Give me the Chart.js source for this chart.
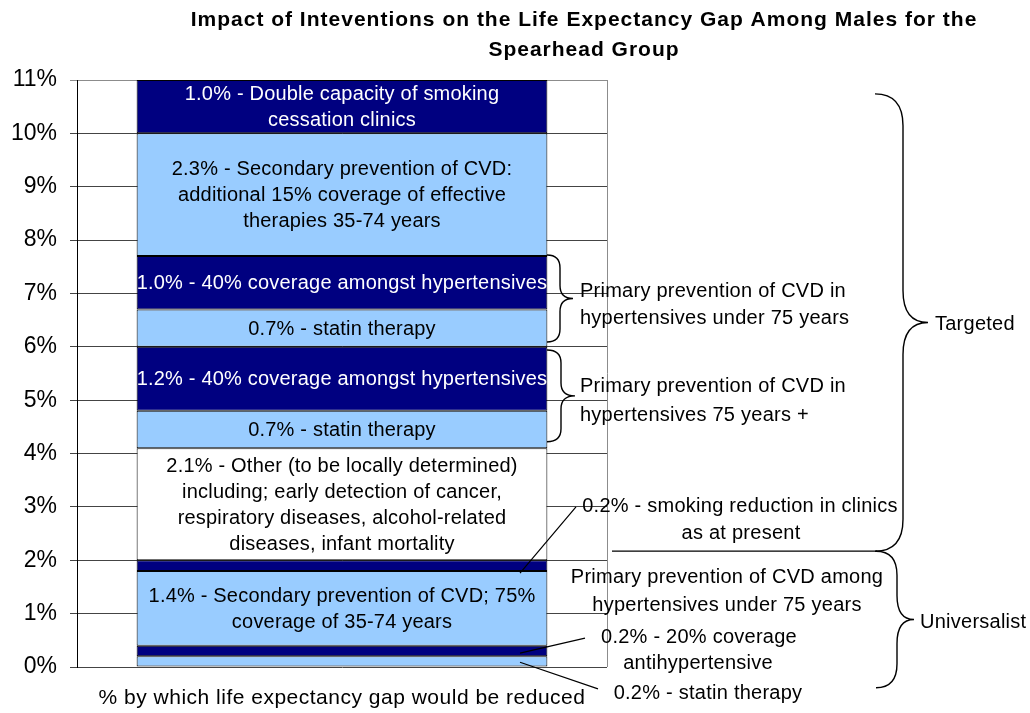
<!DOCTYPE html>
<html>
<head>
<meta charset="utf-8">
<script src="https://cdn.jsdelivr.net/npm/chart.js@4/dist/chart.umd.min.js"></script>
<style>
  html, body { margin: 0; padding: 0; background: #fff; }
  #wrap { width: 1030px; height: 713px; }
</style>
</head>
<body>
<div id="wrap"><canvas id="chart"></canvas></div>
<script>
// one stacked column, segments listed bottom to top
const categories = ['% by which life expectancy gap would be reduced'];
const segmentValues = [0.2, 0.2, 1.4, 0.2, 2.1, 0.7, 1.2, 0.7, 1.0, 2.3, 1.0];
const segmentNames = [
  'Statin therapy',
  '20% coverage antihypertensive',
  'Secondary prevention of CVD; 75% coverage',
  'Smoking reduction in clinics as at present',
  'Other (to be locally determined)',
  'Statin therapy (75 years +)',
  '40% coverage amongst hypertensives (75 years +)',
  'Statin therapy (under 75)',
  '40% coverage amongst hypertensives (under 75)',
  'Secondary prevention of CVD: additional 15% coverage',
  'Double capacity of smoking cessation clinics'
];
const segmentText = [
  [],
  [],
  ['1.4% - Secondary prevention of CVD; 75%', 'coverage of 35-74 years'],
  [],
  ['2.1% - Other (to be locally determined)', 'including; early detection of cancer,',
   'respiratory diseases, alcohol-related', 'diseases, infant mortality'],
  ['0.7% - statin therapy'],
  ['1.2% - 40% coverage amongst hypertensives'],
  ['0.7% - statin therapy'],
  ['1.0% - 40% coverage amongst hypertensives'],
  ['2.3% - Secondary prevention of CVD:', 'additional 15% coverage of effective', 'therapies 35-74 years'],
  ['1.0% - Double capacity of smoking', 'cessation clinics']
];
const yMin = 0, yMax = 11, yStep = 1;
const titleLines = ['Impact of Inteventions on the Life Expectancy Gap Among Males for the', 'Spearhead Group'];

const NAVY = '#000080', SKY = '#99CCFF', WHITE = '#FFFFFF';
const segmentFill = [SKY, NAVY, SKY, NAVY, WHITE, SKY, NAVY, SKY, NAVY, SKY, NAVY];
const FONT = "'Liberation Sans', Arial, sans-serif";

Chart.defaults.font.family = FONT;
Chart.defaults.color = '#000';

const segmentLabels = {
  id: 'segmentLabels',
  afterDatasetsDraw(chart) {
    const ctx = chart.ctx;
    ctx.save();
    ctx.font = '20px ' + FONT;
    ctx.letterSpacing = '0.2px';
    ctx.textAlign = 'center';
    ctx.textBaseline = 'middle';
    chart.data.datasets.forEach((ds, i) => {
      const lines = segmentText[i];
      if (!lines.length) return;
      const bar = chart.getDatasetMeta(i).data[0];
      const { x, y, base } = bar.getProps(['x', 'y', 'base'], true);
      const mid = (y + base) / 2;
      const lh = 26;
      ctx.fillStyle = segmentFill[i] === NAVY ? '#fff' : '#000';
      lines.forEach((t, k) => {
        ctx.fillText(t, x, mid + (k - (lines.length - 1) / 2) * lh + 1);
      });
    });
    ctx.restore();
  }
};

function brace(ctx, xe, yTop, yBot, xs, xTip, r) {
  const yTip = (yTop + yBot) / 2;
  ctx.beginPath();
  ctx.moveTo(xe, yTop);
  ctx.quadraticCurveTo(xs, yTop, xs, yTop + r);
  ctx.lineTo(xs, yTip - r);
  ctx.quadraticCurveTo(xs, yTip, xTip, yTip);
  ctx.quadraticCurveTo(xs, yTip, xs, yTip + r);
  ctx.lineTo(xs, yBot - r);
  ctx.quadraticCurveTo(xs, yBot, xe, yBot);
  ctx.stroke();
}

const sideNotes = {
  id: 'sideNotes',
  beforeDatasetsDraw(chart) {
    const { ctx, chartArea } = chart;
    ctx.save();
    ctx.strokeStyle = '#8c8c8c';
    ctx.lineWidth = 1;
    ctx.beginPath();
    ctx.moveTo(Math.round(chartArea.right) + 0.5, chartArea.top);
    ctx.lineTo(Math.round(chartArea.right) + 0.5, chartArea.bottom);
    ctx.stroke();
    ctx.restore();
  },
  afterDraw(chart) {
    const { ctx, chartArea } = chart;
    const Y = v => chart.scales.y.getPixelForValue(v);
    ctx.save();

    // title
    ctx.fillStyle = '#000';
    ctx.font = 'bold 21px ' + FONT;
    ctx.letterSpacing = '1px';
    ctx.textAlign = 'center';
    ctx.textBaseline = 'middle';
    ctx.fillText(titleLines[0], 584, 20);
    ctx.fillText(titleLines[1], 584, 50);

    // category label under the column
    ctx.font = '21px ' + FONT;
    ctx.letterSpacing = '0.5px';
    const xc = chart.scales.x.getPixelForValue(0);
    ctx.fillText(categories[0], xc, 698);

    // braces
    ctx.strokeStyle = '#000';
    ctx.lineWidth = 1.4;
    brace(ctx, 547, Y(7.72), Y(6.09), 560, 573, 13);
    brace(ctx, 547, Y(5.94), Y(4.22), 561, 575, 13);
    brace(ctx, 875, Y(10.74), Y(2.17), 903, 928, 32);
    brace(ctx, 876, Y(2.17), Y(-0.39), 897, 914, 24);

    // horizontal rule and leader lines
    ctx.lineWidth = 1.2;
    ctx.beginPath();
    ctx.moveTo(chartArea.right + 5, Y(2.17));
    ctx.lineTo(877, Y(2.17));
    ctx.moveTo(576, Y(3.0));
    ctx.lineTo(520, Y(1.76));
    ctx.moveTo(585, Y(0.54));
    ctx.lineTo(520, Y(0.26));
    ctx.moveTo(598, Y(-0.41));
    ctx.lineTo(520, Y(0.09));
    ctx.stroke();

    // notes
    ctx.font = '20px ' + FONT;
    ctx.letterSpacing = '0.25px';
    ctx.textAlign = 'left';
    ctx.fillText('Primary prevention of CVD in', 580, Y(7.03));
    ctx.fillText('hypertensives under 75 years', 580, Y(6.54));
    ctx.fillText('Primary prevention of CVD in', 580, Y(5.25));
    ctx.fillText('hypertensives 75 years +', 580, Y(4.72));
    ctx.fillText('Targeted', 935, Y(6.41));
    ctx.fillText('Universalist', 920, Y(0.84));

    ctx.textAlign = 'center';
    ctx.fillText('0.2% - smoking reduction in clinics', 740, Y(3.0));
    ctx.fillText('as at present', 741, Y(2.51));
    ctx.fillText('Primary prevention of CVD among', 727, Y(1.67));
    ctx.fillText('hypertensives under 75 years', 727, Y(1.16));
    ctx.fillText('0.2% - 20% coverage', 699, Y(0.56));
    ctx.fillText('antihypertensive', 698, Y(0.07));
    ctx.fillText('0.2% - statin therapy', 708, Y(-0.49));
    ctx.restore();
  }
};

new Chart(document.getElementById('chart'), {
  type: 'bar',
  data: {
    labels: categories,
    datasets: segmentValues.map((v, i) => ({
      label: segmentNames[i],
      data: [v],
      backgroundColor: segmentFill[i],
      borderColor: '#000',
      borderWidth: 1,
      borderSkipped: false,
      barPercentage: 0.775,
      categoryPercentage: 1
    }))
  },
  options: {
    responsive: true,
    maintainAspectRatio: false,
    animation: false,
    layout: { padding: { top: 80, bottom: 46, left: 0, right: 423 } },
    plugins: {
      legend: { display: false },
      tooltip: { enabled: false },
      title: { display: false }
    },
    scales: {
      x: {
        stacked: true,
        display: false
      },
      y: {
        stacked: true,
        min: yMin,
        max: yMax,
        border: { color: '#000', width: 1 },
        grid: {
          color: c => (c.tick && c.tick.value === yMax ? '#8c8c8c' : '#444'),
          lineWidth: 1,
          tickLength: 7
        },
        ticks: {
          stepSize: yStep,
          padding: 13,
          font: { size: 23 },
          color: '#000',
          callback: v => v + '%'
        },
        afterFit(scale) {
          scale.width = 77;
          scale.paddingTop = 0;
          scale.paddingBottom = 0;
        }
      }
    }
  },
  plugins: [segmentLabels, sideNotes]
});
</script>
</body>
</html>
